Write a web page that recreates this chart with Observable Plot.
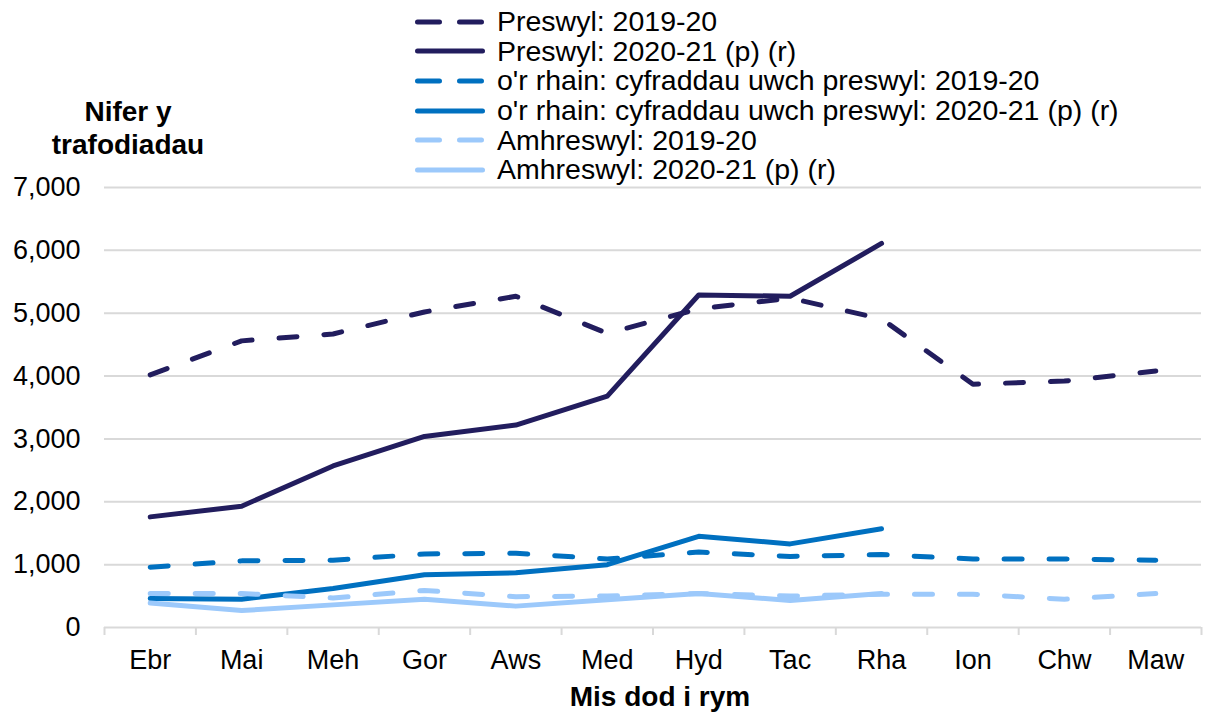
<!DOCTYPE html>
<html>
<head>
<meta charset="utf-8">
<script src="https://cdn.jsdelivr.net/npm/d3@7"></script>
<script src="https://cdn.jsdelivr.net/npm/@observablehq/plot@0.6"></script>
<style>
  html, body { margin: 0; padding: 0; background: #fff; }
  #wrap { position: relative; width: 1214px; height: 713px; font-family: "Liberation Sans", Arial, sans-serif; color: #000; }
  #chart { position: absolute; left: 0; top: 0; }
  #legend { position: absolute; left: 415px; top: 7px; font-size: 28.5px; }
  .row { display: flex; align-items: center; height: 29.6px; white-space: nowrap; }
  .row svg { flex: none; margin-right: 10px; }
  #ytitle { position: absolute; left: 28px; width: 200px; top: 95px; text-align: center; font-weight: bold; font-size: 28px; line-height: 33px; }
  #xtitle { position: absolute; left: 460px; width: 400px; top: 680px; text-align: center; font-weight: bold; font-size: 28px; line-height: 34px; }
</style>
</head>
<body>
<div id="wrap">
  <div id="chart"></div>
  <div id="legend"></div>
  <div id="ytitle">Nifer y<br>trafodiadau</div>
  <div id="xtitle">Mis dod i rym</div>
</div>
<script>
// Categories
const months = ["Ebr","Mai","Meh","Gor","Aws","Med","Hyd","Tac","Rha","Ion","Chw","Maw"];
// Series values
const preswyl1920 = [4020, 4560, 4670, 5020, 5270, 4680, 5070, 5240, 4910, 3870, 3920, 4080];
const preswyl2021 = [1760, 1930, 2570, 3040, 3220, 3680, 5290, 5270, 6110, null, null, null];
const uwch1920    = [960, 1060, 1070, 1170, 1180, 1090, 1200, 1130, 1160, 1090, 1090, 1070];
const uwch2021    = [460, 450, 620, 840, 870, 1000, 1450, 1330, 1570, null, null, null];
const amh1920     = [540, 540, 470, 590, 490, 500, 540, 500, 530, 530, 450, 540];
const amh2021     = [390, 270, 360, 450, 340, 440, 540, 430, 540, null, null, null];
// Tick labels
const yTicks = [0, 1000, 2000, 3000, 4000, 5000, 6000, 7000];
// Legend labels
const seriesNames = [
  "Preswyl: 2019-20",
  "Preswyl: 2020-21 (p) (r)",
  "o'r rhain: cyfraddau uwch preswyl: 2019-20",
  "o'r rhain: cyfraddau uwch preswyl: 2020-21 (p) (r)",
  "Amhreswyl: 2019-20",
  "Amhreswyl: 2020-21 (p) (r)"
];

const navy = "#221d5e", blue = "#0070c0", light = "#9cc9fb";
const series = [
  {name: seriesNames[0], values: preswyl1920, color: navy, dashed: true},
  {name: seriesNames[1], values: preswyl2021, color: navy, dashed: false},
  {name: seriesNames[2], values: uwch1920, color: blue, dashed: true},
  {name: seriesNames[3], values: uwch2021, color: blue, dashed: false},
  {name: seriesNames[4], values: amh1920, color: light, dashed: true},
  {name: seriesNames[5], values: amh2021, color: light, dashed: false}
];

const idx = months.map((m, i) => i);
const bounds = d3.range(months.length + 1).map(i => i - 0.5);

const lineMarks = series.map(s => Plot.line(
  s.values.map((v, i) => ({i, v})),
  {
    x: "i", y: "v",
    stroke: s.color, strokeWidth: 5,
    strokeLinecap: "round", strokeLinejoin: "round",
    strokeDasharray: s.dashed ? "18,27" : null
  }
));

const chart = Plot.plot({
  width: 1214,
  height: 713,
  marginTop: 187,
  marginBottom: 86,
  marginLeft: 104,
  marginRight: 13,
  style: {fontFamily: "Liberation Sans, Arial, sans-serif", fontSize: "27px", color: "#000", background: "#fff"},
  x: {domain: [-0.5, months.length - 0.5]},
  y: {domain: [0, 7000]},
  marks: [
    Plot.gridY(yTicks.filter(d => d > 0), {stroke: "#d9d9d9", strokeOpacity: 1, strokeWidth: 2}),
    Plot.ruleY([0], {stroke: "#d9d9d9", strokeWidth: 2}),
    Plot.axisY({ticks: yTicks, tickSize: 0, tickPadding: 24, tickFormat: d3.format(","), label: null, fill: "#000"}),
    Plot.axisX({ticks: bounds, tickSize: 8, tickFormat: () => "", label: null, stroke: "#d9d9d9", strokeWidth: 2}),
    Plot.axisX({ticks: idx, tickSize: 0, tickPadding: 22, tickFormat: i => months[i], label: null, fill: "#000"}),
    ...lineMarks
  ]
});
document.getElementById("chart").appendChild(chart);

// Legend
const legend = document.getElementById("legend");
series.forEach(s => {
  const row = document.createElement("div");
  row.className = "row";
  const ns = "http://www.w3.org/2000/svg";
  const svg = document.createElementNS(ns, "svg");
  svg.setAttribute("width", 72);
  svg.setAttribute("height", 20);
  const ln = document.createElementNS(ns, "line");
  ln.setAttribute("x1", 2.5); ln.setAttribute("x2", 67.5);
  ln.setAttribute("y1", 10); ln.setAttribute("y2", 10);
  ln.setAttribute("stroke", s.color);
  ln.setAttribute("stroke-width", 5);
  ln.setAttribute("stroke-linecap", "round");
  if (s.dashed) ln.setAttribute("stroke-dasharray", "22,20");
  svg.appendChild(ln);
  row.appendChild(svg);
  const t = document.createElement("span");
  t.textContent = s.name;
  row.appendChild(t);
  legend.appendChild(row);
});
</script>
</body>
</html>
